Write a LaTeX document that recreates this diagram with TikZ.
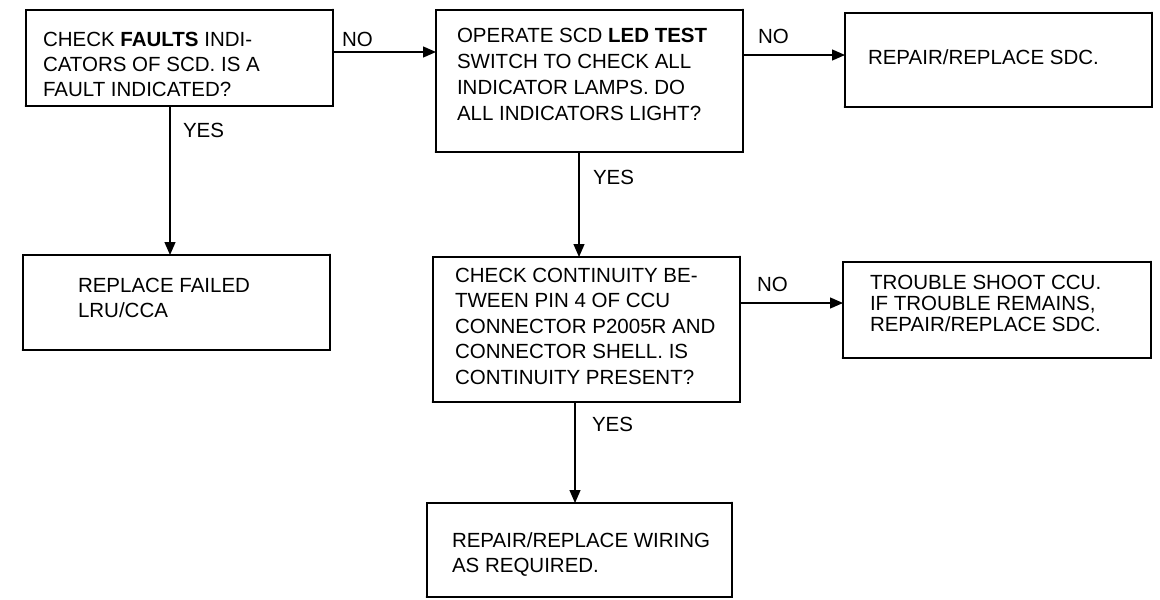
\documentclass[tikz,border=0pt]{standalone}
\usepackage{fontspec}
\setmainfont{Liberation Sans}
\usetikzlibrary{arrows.meta}
\begin{document}
\begin{tikzpicture}[x=1pt,y=-1pt,
  box/.style={draw,line width=1.5pt,rectangle,inner sep=0pt,outer sep=0pt},
  txt/.style={anchor=north west,inner sep=0pt,outer sep=0pt,align=left,font=\fontsize{20.5}{25}\selectfont},
  lbl/.style={anchor=north west,inner sep=0pt,outer sep=0pt,font=\fontsize{20.5}{25}\selectfont},
  arr/.style={line width=1.3pt,-{Triangle[length=13pt,width=11pt]}},
  shade/.style={line width=2.8pt,line cap=round}]
\useasboundingbox (0,0) rectangle (1160,600);
% boxes
\node[box,minimum width=307pt,minimum height=96pt] (A) at (179.5,58) {};
\node[box,minimum width=307pt,minimum height=142pt] (B) at (589.5,81) {};
\node[box,minimum width=307pt,minimum height=94pt] (C) at (998.5,60) {};
\node[box,minimum width=307pt,minimum height=95pt] (D) at (176.5,302.5) {};
\node[box,minimum width=307pt,minimum height=145pt] (E) at (586.5,329.5) {};
\node[box,minimum width=308pt,minimum height=96pt] (F) at (997,310) {};
\node[box,minimum width=305pt,minimum height=94pt] (G) at (579.5,550) {};
\foreach \n in {A,B,C,D,E,F,G}
  \draw[shade] (\n.north east) -- (\n.south east) -- (\n.south west);
% texts
\node[txt] (tA) at (43,32) {CHECK \textbf{FAULTS} INDI-\\CATORS OF SCD. IS A\\FAULT INDICATED?};
\node[txt,font=\fontsize{20.5}{26}\selectfont] (tB) at (457,28) {OPERATE SCD \textbf{LED TEST}\\SWITCH TO CHECK ALL\\INDICATOR LAMPS. DO\\ALL INDICATORS LIGHT?};
\node[txt] (tC) at (868,50) {REPAIR/REPLACE SDC.};
\node[txt] (tD) at (78,278) {REPLACE FAILED\\LRU/CCA};
\node[txt,font=\fontsize{20.5}{25.5}\selectfont] (tE) at (455,268) {CHECK CONTINUITY BE-\\TWEEN PIN 4 OF CCU\\CONNECTOR P2005R AND\\CONNECTOR SHELL. IS\\CONTINUITY PRESENT?};
\node[txt,font=\fontsize{20.5}{21}\selectfont] (tF) at (870,275) {TROUBLE SHOOT CCU.\\IF TROUBLE REMAINS,\\REPAIR/REPLACE SDC.};
\node[txt] (tG) at (452,533) {REPAIR/REPLACE WIRING\\AS REQUIRED.};
% connectors
\coordinate (yAB) at (0,52);
\coordinate (yBC) at (0,55);
\coordinate (yEF) at (0,303);
\coordinate (xAD) at (170,0);
\coordinate (xBE) at (579,0);
\coordinate (xEG) at (575,0);
\draw[arr] (A.east |- yAB) -- (B.west |- yAB);
\draw[arr] (B.east |- yBC) -- (C.west |- yBC);
\draw[arr] (E.east |- yEF) -- (F.west |- yEF);
\draw[arr] (xAD |- A.south) -- (xAD |- D.north);
\draw[arr] (xBE |- B.south) -- (xBE |- E.north);
\draw[arr] (xEG |- E.south) -- (xEG |- G.north);
% labels
\node[lbl] (nAB) at (342,32) {NO};
\node[lbl] (nBC) at (758,29) {NO};
\node[lbl] (nEF) at (757,277) {NO};
\node[lbl] (yAD) at (183,123) {YES};
\node[lbl] (yBEl) at (593,170) {YES};
\node[lbl] (yEGl) at (592,417) {YES};
\end{tikzpicture}
\end{document}
